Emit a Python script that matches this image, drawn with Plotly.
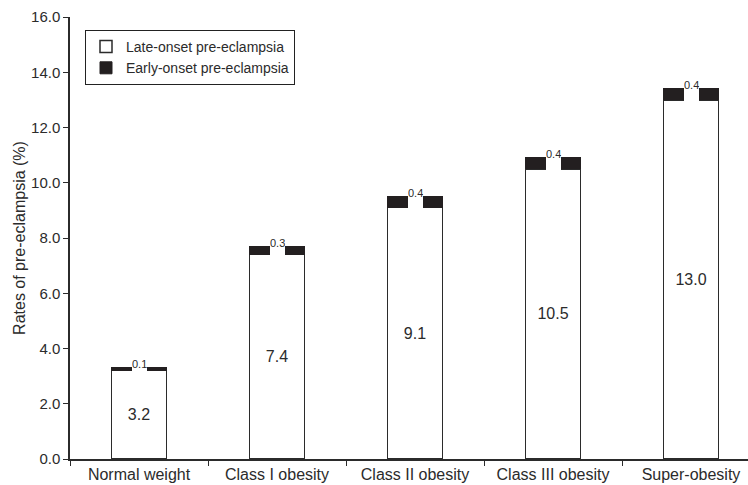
import plotly.graph_objects as go

# Pre-eclampsia rates by maternal BMI class
categories = ["Normal weight", "Class I obesity", "Class II obesity",
              "Class III obesity", "Super-obesity"]
late_onset = [3.2, 7.4, 9.1, 10.5, 13.0]
early_onset = [0.1, 0.3, 0.4, 0.4, 0.4]
y_ticks = [0, 2, 4, 6, 8, 10, 12, 14, 16]

FONT = "Liberation Sans, Arial, Helvetica, sans-serif"
INK = "#2b2b2b"
BAND = "#231f20"

# plot geometry (pixels) used to size the label boxes over the early-onset band
plot_top, plot_bottom = 17, 459
px_per_unit = (plot_bottom - plot_top) / 16.0

fig = go.Figure()

fig.add_trace(go.Bar(
    x=categories, y=late_onset, name="Late-onset pre-eclampsia",
    marker=dict(color="white", line=dict(color=INK, width=1.5)),
    width=0.4,
    text=[f"{v:.1f}" for v in late_onset],
    textposition="inside", insidetextanchor="middle",
    textfont=dict(size=16, color=INK, family=FONT),
))
fig.add_trace(go.Bar(
    x=categories, y=early_onset, name="Early-onset pre-eclampsia",
    marker=dict(color=BAND, line=dict(color=BAND, width=1)),
    width=0.4,
))

# small value labels that break the dark band in the middle
for cat, lo, eo in zip(categories, late_onset, early_onset):
    band_px = eo * px_per_unit
    fig.add_annotation(
        x=cat, y=lo, xref="x", yref="y",
        text=f"{eo:.1f}", showarrow=False,
        xanchor="center", yanchor="bottom", valign="top",
        height=11 + band_px, borderpad=0, borderwidth=0,
        bgcolor="white", yshift=-1.5,
        font=dict(size=11, color=INK, family=FONT),
    )

fig.update_layout(
    barmode="stack",
    width=748, height=485,
    margin=dict(l=70, r=0, t=plot_top, b=485 - plot_bottom),
    paper_bgcolor="white", plot_bgcolor="white",
    font=dict(family=FONT, color=INK),
    showlegend=True,
    legend=dict(
        x=(85 - 70) / 678, y=(plot_bottom - 30) / (plot_bottom - plot_top),
        xanchor="left", yanchor="top",
        traceorder="normal",
        bordercolor="#222222", borderwidth=1, bgcolor="white",
        font=dict(size=14, color=INK, family=FONT),
        tracegroupgap=0,
    ),
    xaxis=dict(
        range=[-0.5, 4.413],
        showline=True, linecolor=INK, linewidth=1.5,
        ticks="outside", tickson="boundaries", ticklen=5,
        tickcolor=INK, tickwidth=1.2,
        tickfont=dict(size=16, color=INK, family=FONT),
        showgrid=False, zeroline=False,
    ),
    yaxis=dict(
        range=[0, 16],
        tickvals=y_ticks, tickformat=".1f",
        showline=True, linecolor=INK, linewidth=1.5,
        ticks="outside", ticklen=5, tickcolor=INK, tickwidth=1.2,
        tickfont=dict(size=15, color=INK, family=FONT),
        showgrid=False, zeroline=False,
        title=dict(text="Rates of pre-eclampsia (%)", standoff=1,
                   font=dict(size=16, color=INK, family=FONT)),
    ),
)

fig.write_html("out.html")
